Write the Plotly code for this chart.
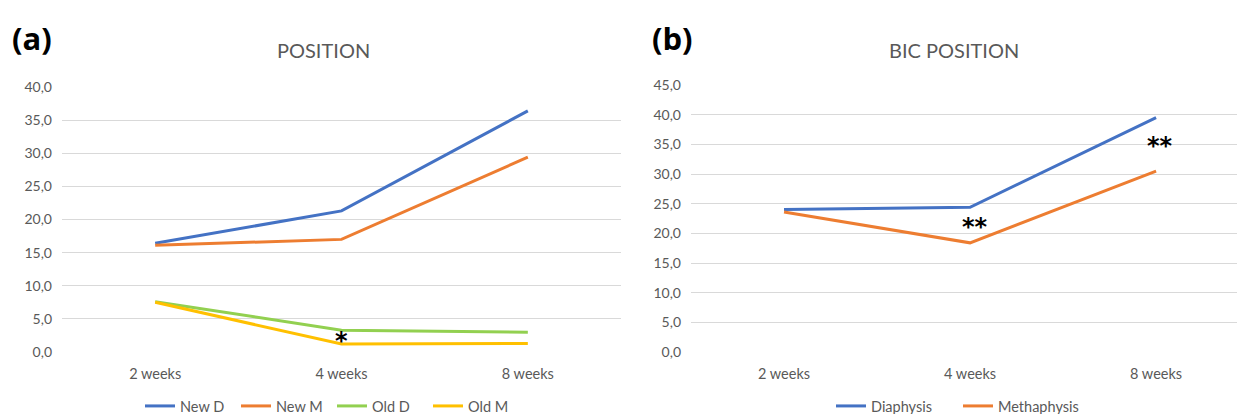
import plotly.graph_objects as go

weeks = ["2 weeks", "4 weeks", "8 weeks"]

new_d = [16.4, 21.3, 36.4]
new_m = [16.1, 17.0, 29.4]
old_d = [7.6, 3.3, 3.0]
old_m = [7.5, 1.2, 1.3]

diaphysis = [24.0, 24.4, 39.5]
methaphysis = [23.6, 18.4, 30.5]

left_series = [("New D", new_d, "#4472C4"), ("New M", new_m, "#ED7D31"),
               ("Old D", old_d, "#92D050"), ("Old M", old_m, "#FFC000")]
right_series = [("Diaphysis", diaphysis, "#4472C4"), ("Methaphysis", methaphysis, "#ED7D31")]

W, H = 1237, 414
B = 12                 # bottom margin reserved for the legend
HP = H - B             # plot-area height in px
FONT = "Lato"
GREY = "#595959"

fig = go.Figure()
for name, vals, col in left_series:
    fig.add_trace(go.Scatter(x=weeks, y=vals, name=name, mode="lines",
                             line=dict(color=col, width=3), xaxis="x", yaxis="y",
                             legend="legend"))
for name, vals, col in right_series:
    fig.add_trace(go.Scatter(x=weeks, y=vals, name=name, mode="lines",
                             line=dict(color=col, width=3), xaxis="x2", yaxis="y2",
                             legend="legend2"))

def px(v):
    return v / W

def py(v):
    return (HP - v) / HP

xcommon = dict(type="category", showgrid=False, zeroline=False, showline=False,
               ticks="", automargin=False, ticklabelstandoff=11,
               tickfont=dict(family=FONT, size=14.5, color=GREY))
ycommon = dict(showgrid=True, gridcolor="#D9D9D9", gridwidth=1, zeroline=False,
               showline=False, ticks="", tickformat=".1f", dtick=5, automargin=False,
               tickfont=dict(family=FONT, size=14, color=GREY), ticklabelstandoff=9)

fig.update_layout(
    width=W, height=H,
    margin=dict(l=0, r=0, t=0, b=B),
    paper_bgcolor="white", plot_bgcolor="white",
    separators=",.",
    xaxis=dict(domain=[px(62), px(621)], range=[-0.5, 2.5], anchor="y", **xcommon),
    yaxis=dict(domain=[py(352), py(87)], range=[0, 40], anchor="x", **ycommon),
    xaxis2=dict(domain=[px(691), 1.0], range=[-0.5, 2.435], anchor="y2", **xcommon),
    yaxis2=dict(domain=[py(352), py(85)], range=[0, 45], anchor="x2", **ycommon),
    legend=dict(orientation="h", x=px(140), xanchor="left", y=py(413), yanchor="bottom",
                font=dict(family=FONT, size=14.5, color=GREY), itemwidth=30,
                entrywidth=51, entrywidthmode="pixels",
                bgcolor="rgba(0,0,0,0)"),
    legend2=dict(orientation="h", x=px(831), xanchor="left", y=py(413), yanchor="bottom",
                 font=dict(family=FONT, size=14.5, color=GREY), itemwidth=30,
                 entrywidth=82, entrywidthmode="pixels",
                 bgcolor="rgba(0,0,0,0)"),
    showlegend=True,
)

ann = [
    dict(text="POSITION", x=px(323), y=py(50), xref="paper", yref="paper",
         font=dict(family=FONT, size=20, color=GREY)),
    dict(text="BIC POSITION", x=px(954), y=py(50), xref="paper", yref="paper",
         font=dict(family=FONT, size=20, color=GREY)),
    dict(text="<b>(a)</b>", x=px(32), y=py(38), xref="paper", yref="paper",
         font=dict(family="Open Sans", size=31, color="black")),
    dict(text="<b>(b)</b>", x=px(672), y=py(38), xref="paper", yref="paper",
         font=dict(family="Open Sans", size=31, color="black")),
    dict(text="<b>*</b>", x=1.0, y=1.7, xref="x", yref="y",
         font=dict(family="DejaVu Sans", size=24, color="black")),
    dict(text="<b>**</b>", x=1.027, y=21.1, xref="x2", yref="y2",
         font=dict(family="DejaVu Sans", size=24, color="black")),
    dict(text="<b>**</b>", x=2.02, y=34.7, xref="x2", yref="y2",
         font=dict(family="DejaVu Sans", size=24, color="black")),
]
for a in ann:
    a["showarrow"] = False
    a["yanchor"] = "middle"
    a["xanchor"] = "center"
fig.update_layout(annotations=ann)

# The reference's legends sit partly below the bottom edge; nudge both legend
# groups down after plotly has laid them out (plotly itself keeps legends inside).
post = """
document.body.style.margin='0';document.body.style.overflow='hidden';
var gd=document.getElementById('{plot_id}');
function nudge(){
  gd.querySelectorAll('g.legend, g.legend2').forEach(function(el){
    var t=el.getAttribute('transform')||'';
    if(el.dataset.nudged===t) return;
    var m=t.match(/translate\\(([-\\d.e]+)[ ,]+([-\\d.e]+)\\)/);
    if(!m) return;
    var nt='translate('+m[1]+','+(parseFloat(m[2])+9)+')';
    el.setAttribute('transform',nt);
    el.dataset.nudged=nt;
  });
}
nudge();
if(gd.on){gd.on('plotly_afterplot',nudge);}
setTimeout(nudge,0);setTimeout(nudge,200);
"""
fig.write_html("out.html", config={"displayModeBar": False}, post_script=post)
